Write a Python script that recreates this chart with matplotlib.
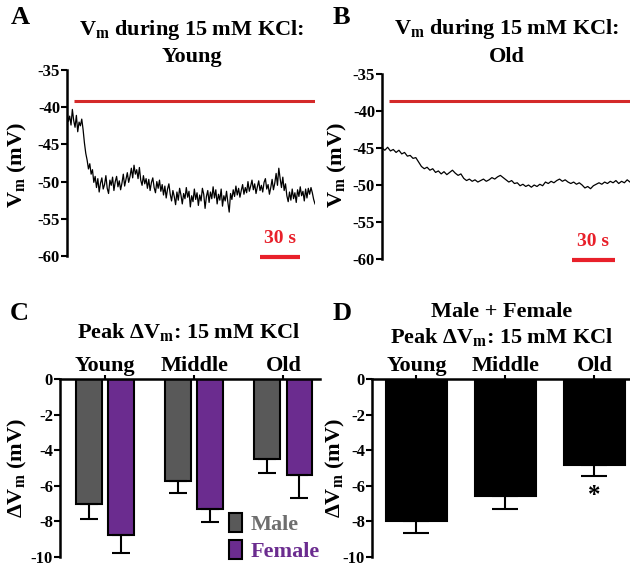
import numpy as np
import matplotlib
matplotlib.use("Agg")
import matplotlib.pyplot as plt
from matplotlib.patches import Patch

plt.rcParams["font.family"] = "Liberation Serif"
plt.rcParams["font.weight"] = "bold"
plt.rcParams["mathtext.fontset"] = "custom"
plt.rcParams["mathtext.rm"] = "Liberation Serif:bold"
plt.rcParams["mathtext.bf"] = "Liberation Serif:bold"
plt.rcParams["mathtext.it"] = "Liberation Serif:bold"
plt.rcParams["axes.unicode_minus"] = False

# ---- data ----
# membrane potential traces (mV), sampled every dt seconds
young_dt = 1.0
young_vm = [-40.6, -41.9, -41.2, -42.4, -40.3, -41.8, -42.7, -41.1, -43.3, -42.0,
            -42.5, -41.6, -43.0, -44.8, -46.2, -47.1, -48.3, -47.6, -49.0, -48.4,
            -50.1, -49.3, -50.8, -49.6, -51.4, -50.2, -49.5, -51.0, -50.4, -49.2,
            -50.9, -51.6, -49.8, -50.5, -49.4, -51.2, -50.0, -49.3, -50.7, -49.9,
            -51.1, -50.2, -49.0, -50.6, -49.7, -48.8, -50.1, -49.3, -48.2, -49.5,
            -47.8, -49.0, -48.4, -49.6, -48.1, -49.8, -50.5, -49.2, -50.3, -49.6,
            -50.9, -49.7, -51.2, -50.1, -49.5, -50.8, -51.5, -50.0, -50.9, -49.8,
            -51.3, -50.4, -51.8, -50.6, -52.2, -51.0, -50.3, -51.7, -52.6, -51.2,
            -52.0, -53.1, -51.4, -52.5, -50.9, -51.8, -53.0, -51.6, -52.3, -50.8,
            -52.1, -51.3, -53.4, -51.9, -52.7, -51.0, -52.4, -51.5, -53.2, -51.8,
            -52.6, -50.9, -51.7, -53.6, -52.0, -51.2, -52.8, -51.4, -52.3, -50.7,
            -52.2, -51.1, -53.0, -51.7, -52.5, -51.0, -53.3, -51.9, -52.6, -51.3,
            -52.8, -54.1, -51.6, -52.4, -51.1, -52.0, -50.6, -51.8, -50.9, -52.1,
            -51.2, -50.4, -51.7, -50.8, -51.5, -50.0, -51.3, -50.6, -49.8, -51.1,
            -50.3, -51.6, -50.7, -49.9, -51.2, -50.5, -51.4, -50.1, -49.6, -51.0,
            -50.4, -51.7, -50.8, -49.7, -51.1, -50.2, -48.9, -50.5, -48.2, -49.6,
            -50.8, -49.4, -51.2, -50.3, -51.9, -52.7, -51.4, -52.5, -51.0, -52.3,
            -51.5, -52.8, -51.1, -52.0, -50.7, -51.9, -51.3, -52.6, -51.0, -52.2,
            -50.9, -51.7, -50.8, -51.5, -52.4, -53.0]

old_dt = 2.0
old_vm = [-45.0, -45.3, -44.9, -45.4, -45.2, -45.6, -45.3, -45.8, -45.6, -46.1,
          -46.0, -46.4, -46.3, -46.9, -47.5, -47.8, -47.6, -48.0, -47.8, -48.3,
          -48.1, -48.5, -48.2, -48.6, -48.3, -48.0, -48.4, -48.7, -48.5, -49.1,
          -49.4, -49.2, -49.5, -49.3, -49.6, -49.4, -49.2, -49.5, -49.3, -49.0,
          -49.2, -48.9, -48.7, -49.0, -49.3, -49.6, -49.4, -49.8, -49.7, -50.1,
          -49.9, -50.2, -50.0, -50.3, -50.0, -50.2, -49.9, -50.1, -49.6, -49.8,
          -49.5, -49.7, -49.4, -49.2, -49.5, -49.3, -49.6, -49.8, -49.6, -49.9,
          -49.7, -50.0, -50.4, -50.2, -50.5, -50.1, -49.9, -49.7, -49.9, -49.6,
          -49.8, -49.5, -49.7, -49.4, -49.8, -49.5, -49.7, -49.3, -49.6]

young_ref = -39.2   # red reference line
old_ref = -38.65
scale_s = 30

ages = ["Young", "Middle", "Old"]
male_dvm = [-7.03, -5.74, -4.50]
male_sem = [0.81, 0.64, 0.79]
female_dvm = [-8.75, -7.32, -5.40]
female_sem = [1.01, 0.72, 1.31]
all_dvm = [-7.99, -6.57, -4.84]
all_sem = [0.64, 0.71, 0.62]

male_col = "#595959"
female_col = "#6b2c8f"
red = "#d42a2a"

W, H = 630, 570
fig = plt.figure(figsize=(W / 100, H / 100), dpi=100)


def box(l, t, r, b):
    return [l / W, 1 - b / H, (r - l) / W, (b - t) / H]


def trace_panel(rect, vm, dt, ref, bar_end):
    ax = fig.add_axes(rect)
    t = np.arange(len(vm)) * dt
    ax.plot(t, vm, color="black", lw=0.9)
    tmax = t[-1]
    ax.hlines(ref, tmax * 0.03, tmax, color=red, lw=2.2)
    ax.plot([bar_end - scale_s, bar_end], [-60.1, -60.1], color="#e8202a",
            lw=3, solid_capstyle="butt", clip_on=False)
    ax.text(bar_end - scale_s / 2, -57.6, f"{scale_s} s", color="#e8202a",
            ha="center", va="center", fontsize=14)
    ax.set_xlim(0, tmax)
    ax.set_ylim(-60, -35)
    ax.set_yticks(range(-60, -34, 5))
    for s in ["top", "right", "bottom"]:
        ax.spines[s].set_visible(False)
    ax.spines["left"].set_linewidth(1.8)
    ax.tick_params(axis="y", length=4, width=1.5, pad=1, labelsize=12)
    ax.set_xticks([])
    return ax


axA = trace_panel(box(67, 70, 315, 256), young_vm, young_dt, young_ref, 174)
axB = trace_panel(box(382, 74, 630, 259), old_vm, old_dt, old_ref, 165)


def bar_axes(rect):
    ax = fig.add_axes(rect)
    ax.set_ylim(-10, 0)
    ax.set_yticks(range(-10, 1, 2))
    for s in ["bottom", "right"]:
        ax.spines[s].set_visible(False)
    for s in ["left", "top"]:
        ax.spines[s].set_linewidth(1.8)
    ax.xaxis.tick_top()
    ax.tick_params(axis="y", length=4, width=1.5, pad=1, labelsize=12)
    ax.tick_params(axis="x", length=3, width=1.5, pad=-0.5, labelsize=16)
    return ax


x = np.arange(len(ages))

axC = bar_axes(box(60, 379, 320, 557))
off, bw = 0.18, 0.29
axC.bar(x - off, male_dvm, bw, color=male_col, edgecolor="black", lw=1.5)
axC.bar(x + off, female_dvm, bw, color=female_col, edgecolor="black", lw=1.5)
axC.errorbar(x - off, male_dvm, yerr=[male_sem, [0] * 3], fmt="none",
             ecolor="black", elinewidth=1.5, capsize=6.5, capthick=1.5)
axC.errorbar(x + off, female_dvm, yerr=[female_sem, [0] * 3], fmt="none",
             ecolor="black", elinewidth=1.5, capsize=6.5, capthick=1.5)
axC.set_xlim(-0.506, 2.41)
axC.set_xticks(x, ages)
handles = [Patch(facecolor=male_col, edgecolor="black", lw=1.5),
           Patch(facecolor=female_col, edgecolor="black", lw=1.5)]
fig.legend(handles, ["Male", "Female"], loc="upper left",
           bbox_to_anchor=(229 / W, 1 - 513 / H), frameon=False, fontsize=16,
           handlelength=0.6, handleheight=0.95, handletextpad=0.35,
           labelspacing=0.2, borderpad=0, borderaxespad=0,
           labelcolor=["#6e6e6e", female_col])

axD = bar_axes(box(372, 379, 630, 557))
axD.bar(x, all_dvm, 0.685, color="black", edgecolor="black", lw=1.5)
axD.errorbar(x, all_dvm, yerr=[all_sem, [0] * 3], fmt="none", ecolor="black",
             elinewidth=1.5, capsize=9.5, capthick=1.5)
axD.text(2, all_dvm[2] - all_sem[2] - 1.1, "*", ha="center", va="center",
         fontsize=18)
axD.set_xlim(-0.5, 2.40)
axD.set_xticks(x, ages)

# titles, axis labels, panel letters
vm = r"V$_\mathrm{m}$"
fig.text(192 / W, 1 - 30 / H, vm + " during 15 mM KCl:", ha="center", va="center", fontsize=16)
fig.text(192 / W, 1 - 57 / H, "Young", ha="center", va="center", fontsize=16)
fig.text(507 / W, 1 - 29 / H, vm + " during 15 mM KCl:", ha="center", va="center", fontsize=16)
fig.text(507 / W, 1 - 57 / H, "Old", ha="center", va="center", fontsize=16)
fig.text(189 / W, 1 - 332 / H, "Peak Δ" + vm + ": 15 mM KCl", ha="center", va="center", fontsize=16)
fig.text(502 / W, 1 - 312 / H, "Male + Female", ha="center", va="center", fontsize=16)
fig.text(502 / W, 1 - 337 / H, "Peak Δ" + vm + ": 15 mM KCl", ha="center", va="center", fontsize=16)

fig.text(17 / W, 1 - 165 / H, vm + " (mV)", rotation=90, ha="center", va="center", fontsize=16)
fig.text(337 / W, 1 - 165 / H, vm + " (mV)", rotation=90, ha="center", va="center", fontsize=16)
fig.text(17 / W, 1 - 468 / H, "Δ" + vm + " (mV)", rotation=90, ha="center", va="center", fontsize=16)
fig.text(335 / W, 1 - 468 / H, "Δ" + vm + " (mV)", rotation=90, ha="center", va="center", fontsize=16)

for letter, px, py in [("A", 20, 18), ("B", 341, 18), ("C", 19, 313), ("D", 342, 313)]:
    fig.text(px / W, 1 - py / H, letter, ha="center", va="center", fontsize=19)

fig.savefig("out.png", dpi=100)
